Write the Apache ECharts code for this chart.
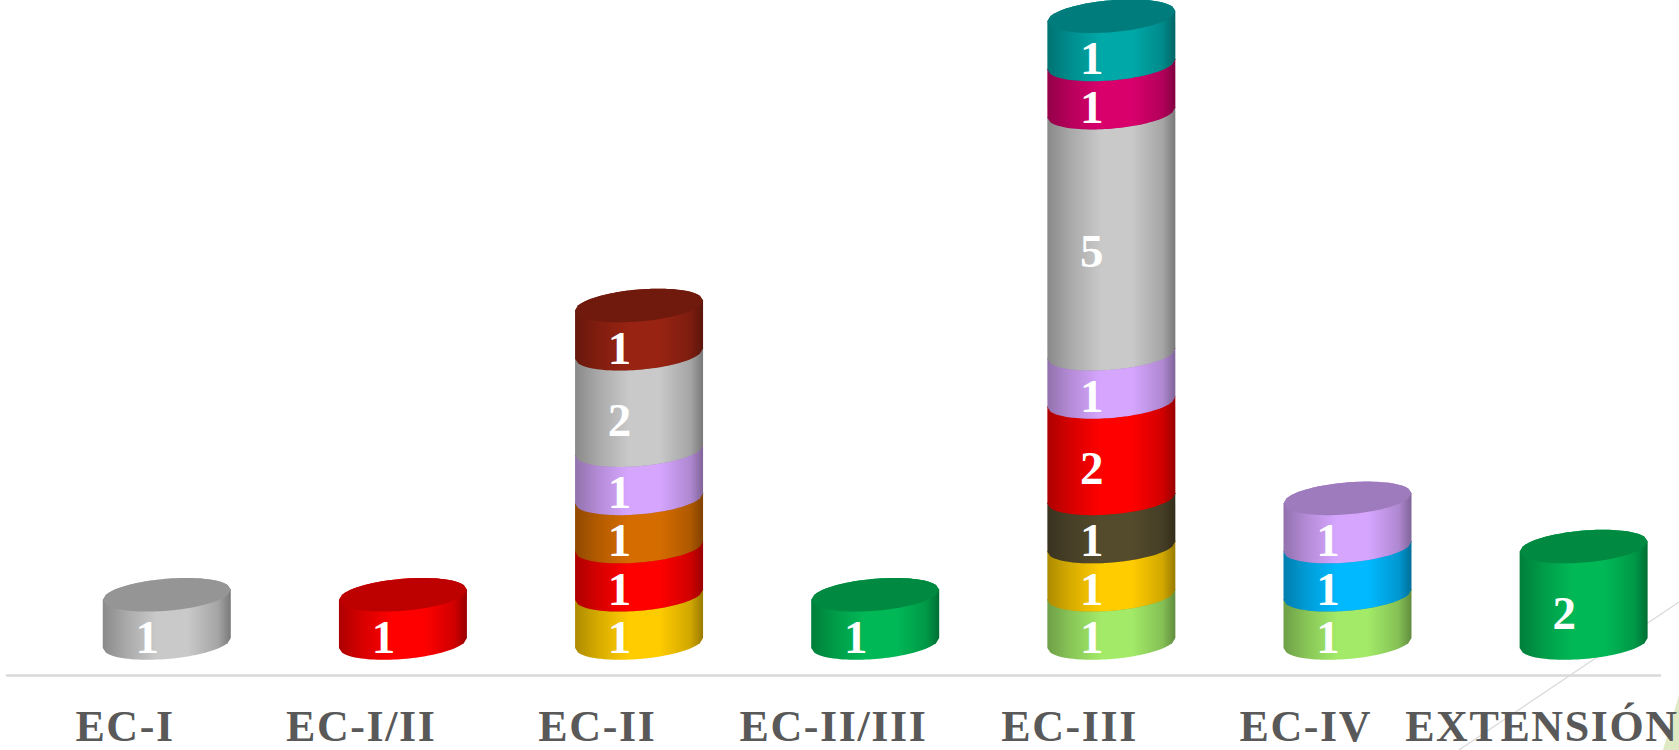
<!DOCTYPE html>
<html>
<head>
<meta charset="utf-8">
<style>html,body{margin:0;padding:0;background:#fff;overflow:hidden}#c{width:1679px;height:750px}#c svg text{letter-spacing:1.6px}</style>
<script src="https://cdn.jsdelivr.net/npm/echarts@6/dist/echarts.min.js"></script>
</head>
<body>
<div id="c"></div>
<script>
const categories = ['EC-I','EC-I/II','EC-II','EC-II/III','EC-III','EC-IV','EXTENSIÓN'];
const lightGreen = [0,0,0,0,1,1,0];
const yellow     = [0,0,1,0,1,0,0];
const darkBrown  = [0,0,0,0,1,0,0];
const skyBlue    = [0,0,0,0,0,1,0];
const red        = [0,1,1,0,2,0,0];
const orange     = [0,0,1,0,0,0,0];
const lilac      = [0,0,1,0,1,1,0];
const gray       = [1,0,2,0,5,0,0];
const magenta    = [0,0,0,0,1,0,0];
const darkRed    = [0,0,1,0,0,0,0];
const teal       = [0,0,0,0,1,0,0];
const green      = [0,0,0,1,0,0,2];

const stackOrder = [
  ['Verde claro', lightGreen, '#a2ea68'],
  ['Amarillo', yellow, '#ffcc00'],
  ['Marrón', darkBrown, '#544b2d'],
  ['Azul', skyBlue, '#00b9ff'],
  ['Rojo', red, '#ff0000'],
  ['Naranja', orange, '#d56c00'],
  ['Lila', lilac, '#d6a6ff'],
  ['Gris', gray, '#c9c9c9'],
  ['Magenta', magenta, '#d9006c'],
  ['Rojo oscuro', darkRed, '#982312'],
  ['Turquesa', teal, '#00a8a8'],
  ['Verde', green, '#00b956']
];

function shade(hex, f) {
  const n = parseInt(hex.slice(1), 16);
  const c = [n >> 16, (n >> 8) & 255, n & 255].map(v => Math.round(v * f));
  return 'rgb(' + c.join(',') + ')';
}
function sideFill(hex) {
  return new echarts.graphic.LinearGradient(0, 0, 1, 0, [
    {offset: 0, color: shade(hex, 0.68)},
    {offset: 0.18, color: shade(hex, 0.84)},
    {offset: 0.42, color: shade(hex, 1)},
    {offset: 0.66, color: shade(hex, 1)},
    {offset: 0.9, color: shade(hex, 0.82)},
    {offset: 1, color: shade(hex, 0.6)}
  ]);
}

function arc(cx, cy, a, b, tilt, front, reverse) {
  const pts = [];
  const steps = 40;
  for (let i = 0; i <= steps; i++) {
    const t = reverse ? 1 - i / steps : i / steps;
    const u = -1 + 2 * t;
    pts.push([cx + a * u, cy - tilt * a * u + front * b * Math.sqrt(Math.max(0, 1 - u * u))]);
  }
  return pts;
}

const totals = categories.map(() => 0);
const series = stackOrder.map(([name, values, color], order) => {
  const data = [];
  values.forEach((v, i) => {
    if (v > 0) {
      data.push([i, totals[i], totals[i] + v, v]);
      totals[i] += v;
    }
  });
  return {
    name,
    type: 'custom',
    coordinateSystem: 'cartesian2d',
    encode: {x: 0, y: [1, 2]},
    clip: false,
    data,
    renderItem(params, api) {
      const band = api.size([1, 0])[0];
      const base = api.coord([api.value(0), api.value(1)]);
      const top = api.coord([api.value(0), api.value(2)]);
      const a = band * 0.271;
      const b = a * 0.25;
      const tilt = 0.08;
      const dx = band * 0.1766;
      const dy = -32;
      const cx = base[0] + dx;
      const lowY = base[1] + dy;
      const topY = top[1] + dy;
      const body = arc(cx, lowY, a, b, tilt, 1, false).concat(arc(cx, topY, a, b, tilt, -1, true));
      const cap = arc(cx, topY, a, b, tilt, 1, false).concat(arc(cx, topY, a, b, tilt, -1, true));
      return {
        type: 'group',
        children: [
          {type: 'polygon', z2: order + 1, shape: {points: body}, style: {fill: sideFill(color)}},
          {type: 'polygon', z2: order + 1, shape: {points: cap}, style: {fill: shade(color, 0.74)}},
          {type: 'text', z2: 100, x: base[0] + band * 0.0975, y: (base[1] + top[1]) / 2 - 14,
           style: {text: String(api.value(3)), fill: '#ffffff', font: 'bold 47px "Liberation Serif"',
                   align: 'center', verticalAlign: 'middle'}}
        ]
      };
    }
  };
});

const chart = echarts.init(document.getElementById('c'), null, {renderer: 'svg'});
chart.setOption({
  animation: false,
  backgroundColor: '#ffffff',
  grid: {left: 7, width: 1653, top: 0, height: 675, outerBoundsMode: 'none'},
  xAxis: {
    type: 'category',
    data: categories,
    axisTick: {show: false},
    axisLine: {lineStyle: {color: '#d9d9d9', width: 2.5}},
    axisLabel: {interval: 0, color: '#595959', fontFamily: 'Liberation Serif', fontWeight: 'bold', fontSize: 44, margin: 29}
  },
  yAxis: {type: 'value', min: 0, max: 14, show: false},
  graphic: [
    {type: 'line', z: -1, silent: true, shape: {x1: 1679, y1: 602, x2: 1459, y2: 750}, style: {stroke: '#d9d9d9', lineWidth: 1.2}},
    {type: 'polygon', z: -1, silent: true, shape: {points: [[1679, 695], [1679, 750], [1663, 750]]}, style: {fill: '#dfeac4'}}
  ],
  series
});
</script>
</body>
</html>
